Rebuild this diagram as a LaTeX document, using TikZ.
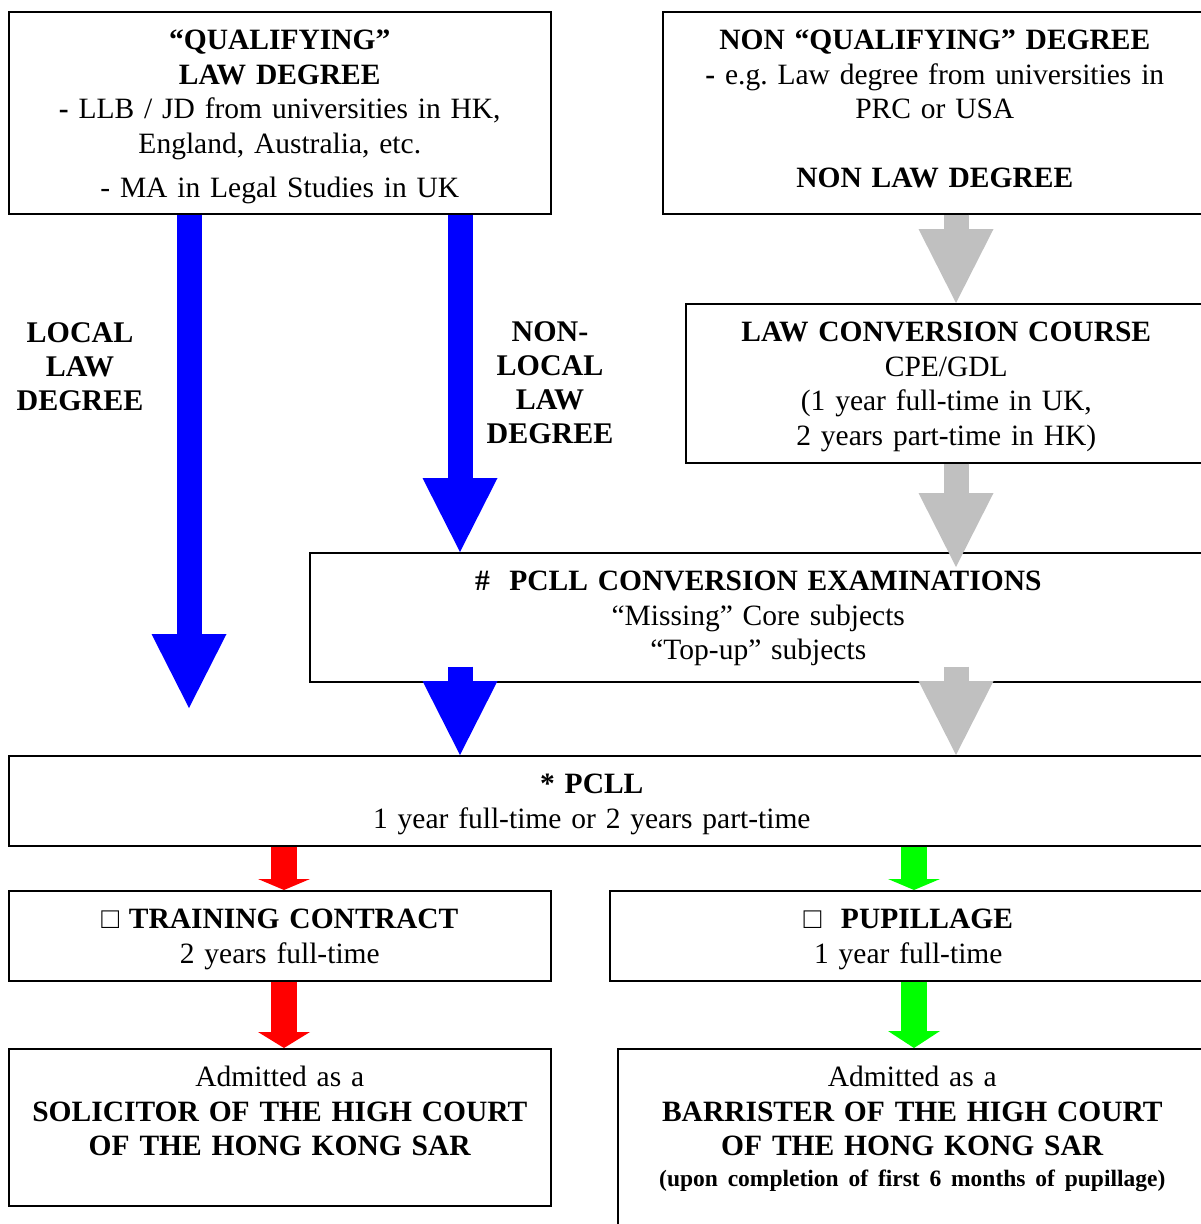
\documentclass[tikz,border=0pt]{standalone}
\usepackage{fontspec}
\setmainfont{Liberation Serif}
\usetikzlibrary{arrows.meta,calc}

\definecolor{gris}{RGB}{192,192,192}
\definecolor{vert}{RGB}{0,255,0}

\begin{document}
\begin{tikzpicture}[x=1pt, y=-1pt,
  font=\fontsize{29.5}{34.5}\selectfont\frenchspacing,
  boite/.style={draw=black, line width=1.6pt, anchor=north west, align=center, inner sep=0pt, text height=38pt},
  titre/.style={font=\fontsize{30}{34}\selectfont\bfseries, align=center},
  grosse/.style={line width=25pt, -{Triangle[width=75pt,length=74pt,line width=0pt]}}]

\useasboundingbox (0,0) rectangle (1201,1224);

% Les colonnes des flèches
\coordinate (colL) at (189,0);
\coordinate (colM) at (460,0);
\coordinate (colR) at (956,0);
\coordinate (colT) at (284,0);
\coordinate (colP) at (914,0);
\coordinate (finL) at (189,708);

% Les boîtes du haut
\node[boite, text width=542pt, text depth=164pt] (qual) at (8,11)
  {\textbf{“QUALIFYING”}\\ \textbf{LAW DEGREE}\\ \textbf{-} LLB / JD from universities in HK,\\ England, Australia, etc.\\[10pt] - MA in Legal Studies in UK};
\node[boite, text width=544pt, text depth=164pt] (nonqual) at (662,11)
  {\textbf{NON “QUALIFYING” DEGREE}\\ \textbf{-} e.g. Law degree from universities in\\ PRC or USA\\[34.5pt] \textbf{NON LAW DEGREE}};
\node[boite, text width=521pt, text depth=121pt] (conv) at (685,303)
  {\textbf{LAW CONVERSION COURSE}\\ CPE/GDL\\ (1 year full-time in UK,\\ 2 years part-time in HK)};

% Les étiquettes
\node[titre] (local) at (80,367) {LOCAL\\ LAW\\ DEGREE};
\node[titre] (nonlocal) at (550,383) {NON-\\ LOCAL\\ LAW\\ DEGREE};

% Les examens et le PCLL
\node[boite, text width=897pt, text depth=91pt] (pcllconv) at (309,552)
  {\textbf{\#\ \ PCLL CONVERSION EXAMINATIONS}\\ “Missing” Core subjects\\ “Top-up” subjects};
\node[boite, text width=1198pt, text depth=52pt] (pcll) at (8,755)
  {\textbf{* PCLL}\hspace*{32pt}\null\\ 1 year full-time or 2 years part-time\hspace*{32pt}\null};

% Les stages
\node[boite, text width=542pt, text depth=52pt] (training) at (8,890)
  {\textbf{{\mdseries □} TRAINING CONTRACT}\\ 2 years full-time};
\node[boite, text width=597pt, text depth=52pt] (pupil) at (609,890)
  {\textbf{{\mdseries □}\ \ PUPILLAGE}\\ 1 year full-time};

% Les admissions
\node[boite, text width=542pt, text depth=119pt] (solicitor) at (8,1048)
  {Admitted as a\\ \textbf{SOLICITOR OF THE HIGH COURT}\\ \textbf{OF THE HONG KONG SAR}};
\node[boite, text width=589pt, text depth=160pt] (barrister) at (617,1048)
  {Admitted as a\\ \textbf{BARRISTER OF THE HIGH COURT}\\ \textbf{OF THE HONG KONG SAR}\\[-4pt]
   {\fontsize{23.5}{28}\selectfont\textbf{(upon completion of first 6 months of pupillage)}}};

% Les grosses flèches
\draw[grosse, blue] (qual.south -| colL) -- (finL);
\draw[grosse, blue] (qual.south -| colM) -- (pcllconv.north -| colM);
\draw[grosse, blue] ($(pcllconv.south -| colM)+(0,-16)$) -- (pcll.north -| colM);
\draw[grosse, gris] (nonqual.south -| colR) -- (conv.north -| colR);
\draw[grosse, gris] (conv.south -| colR) -- ($(pcllconv.north -| colR)+(0,15)$);
\draw[grosse, gris] ($(pcllconv.south -| colR)+(0,-16)$) -- (pcll.north -| colR);

% Les petites flèches
\foreach \a/\b/\c/\l/\col in {pcll/training/colT/11/red, training/solicitor/colT/16/red,
                              pcll/pupil/colP/11/vert, pupil/barrister/colP/17/vert}
\draw[line width=26pt, \col, -{Triangle[width=52pt,length=\l pt,line width=0pt]}]
  (\a.south -| \c) -- (\b.north -| \c);

\end{tikzpicture}
\end{document}
